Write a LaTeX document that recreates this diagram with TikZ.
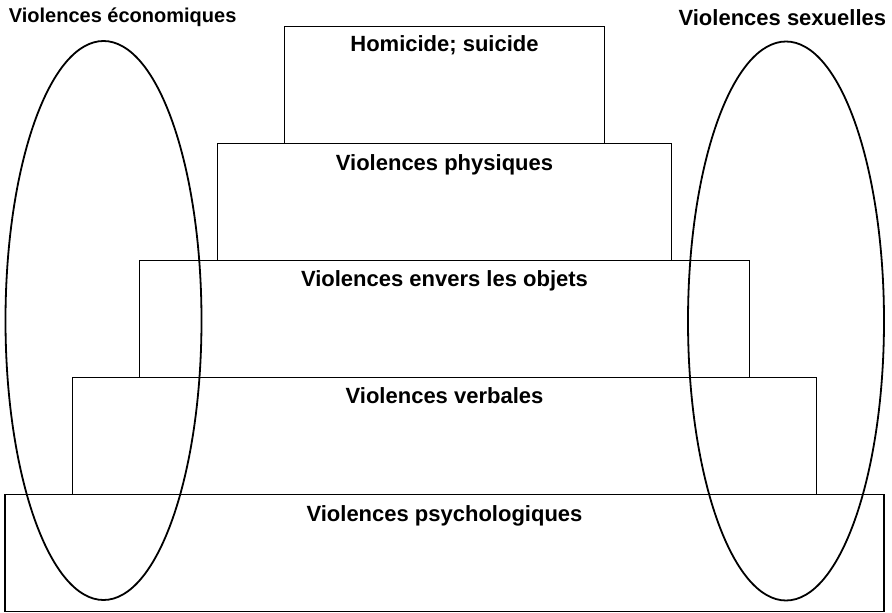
\documentclass[tikz,border=0pt]{standalone}
\usepackage{fontspec}
\setmainfont{Liberation Sans}
\usetikzlibrary{positioning,shapes.geometric}

\begin{document}
\begin{tikzpicture}[x=1pt, y=-1pt, line width=1.8pt,
                    level/.style={rectangle,draw,outer sep=0pt,inner sep=0pt,minimum height=117pt},
                    title/.style={font=\fontsize{22}{26}\selectfont\bfseries,inner sep=0pt,anchor=base},
                    zone/.style={ellipse,draw,inner sep=0pt,minimum width=196pt,minimum height=559pt}]

  \useasboundingbox (0,0) rectangle (892,613);

  % the pyramid, from the bottom up
  \node[level, minimum width=879pt] (psycho) at (444.5,553) {};
  \node[level, minimum width=744pt] (verbal) [above=0pt of psycho] {};
  \node[level, minimum width=610pt] (objets) [above=0pt of verbal] {};
  \node[level, minimum width=454pt] (physique) [above=0pt of objets] {};
  \node[level, minimum width=320pt] (homicide) [above=0pt of physique] {};

  \node[title] (psycho text) at ([yshift=-27pt]psycho.north) {Violences psychologiques};
  \node[title] (verbal text) at ([yshift=-26pt]verbal.north) {Violences verbales};
  \node[title] (objets text) at ([yshift=-26pt]objets.north) {Violences envers les objets};
  \node[title] (physique text) at ([yshift=-27pt]physique.north) {Violences physiques};
  \node[title] (homicide text) at ([yshift=-25pt]homicide.north) {Homicide; suicide};

  % the two transversal forms
  \node[zone] (eco) at (103.5,320.5) {};
  \node[zone] (sexe) at (786,321) {};

  \node[title, anchor=base west, font=\fontsize{20}{24}\selectfont\bfseries] (eco text) at (8,22) {Violences économiques};
  \node[title, anchor=base east] (sexe text) at (887,25) {Violences sexuelles};
\end{tikzpicture}
\end{document}
